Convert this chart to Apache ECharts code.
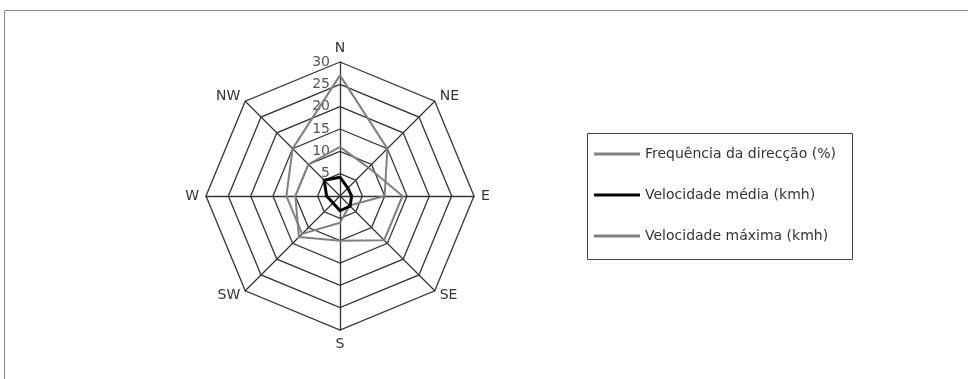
<!DOCTYPE html>
<html>
<head>
<meta charset="utf-8">
<script src="https://cdn.jsdelivr.net/npm/echarts@6/dist/echarts.min.js"></script>
<style>
  html, body { margin: 0; padding: 0; background: #fff; }
  #chart { width: 968px; height: 379px; }
</style>
</head>
<body>
<div id="chart"></div>
<script>
// Directions, compass order (clockwise from N)
const directions = ['N', 'NE', 'E', 'SE', 'S', 'SW', 'W', 'NW'];
// Values, same order as directions
const frequencia = [27, 15, 10, 3, 6, 12, 12, 15];
const velMedia = [4.2, 2.5, 2.6, 3.2, 3.3, 2.2, 3.0, 5.0];
const velMaxima = [11, 9, 14, 14, 10, 13, 10, 10];
const seriesNames = ['Frequência da direcção (%)', 'Velocidade média (kmh)', 'Velocidade máxima (kmh)'];
const axisMax = 30;

// radar goes counter-clockwise, so reorder N, NW, W, ...
const order = [0, 7, 6, 5, 4, 3, 2, 1];
const pick = arr => order.map(i => arr[i]);

const chart = echarts.init(document.getElementById('chart'));

const indicators = order.map((i, k) => {
    const ind = { name: directions[i], max: axisMax, min: 0 };
    if (k === 0) {
        // tick labels only on the N axis
        ind.axisLabel = {
            show: true,
            color: '#555',
            fontSize: 14,
            fontFamily: 'DejaVu Sans',
            margin: 10,
            formatter: v => (v === 0 ? '' : v)
        };
    }
    return ind;
});

const option = {
    animation: false,
    backgroundColor: '#fff',
    graphic: [
        // outer frame (cut by the image at right and bottom)
        {
            type: 'rect',
            shape: { x: 4.5, y: 10.5, width: 1000, height: 400 },
            style: { fill: null, stroke: '#8c8c8c', lineWidth: 1 }
        },
        // legend box
        {
            type: 'rect',
            shape: { x: 587.5, y: 133.5, width: 265, height: 126 },
            style: { fill: null, stroke: '#444', lineWidth: 1 }
        }
    ],
    legend: {
        orient: 'vertical',
        left: 594,
        top: 147,
        padding: 0,
        itemWidth: 46,
        itemHeight: 3,
        itemGap: 27,
        icon: 'rect',
        textStyle: { fontFamily: 'DejaVu Sans', fontSize: 14, color: '#333', lineHeight: 14 },
        data: seriesNames
    },
    radar: {
        center: [340, 196],
        radius: 134,
        startAngle: 90,
        shape: 'polygon',
        splitNumber: 6,
        indicator: indicators,
        axisName: {
            color: '#333',
            fontSize: 14,
            fontFamily: 'DejaVu Sans'
        },
        nameGap: 7,
        axisLabel: { show: false },
        axisLine: { lineStyle: { color: '#333', width: 1.3 } },
        splitLine: { lineStyle: { color: '#333', width: 1.3 } },
        splitArea: { show: false }
    },
    series: [{
        type: 'radar',
        symbol: 'none',
        data: [
            {
                name: seriesNames[0],
                value: pick(frequencia),
                lineStyle: { color: '#808080', width: 2 },
                itemStyle: { color: '#808080' }
            },
            {
                name: seriesNames[1],
                value: pick(velMedia),
                lineStyle: { color: '#000', width: 3 },
                itemStyle: { color: '#000' }
            },
            {
                name: seriesNames[2],
                value: pick(velMaxima),
                lineStyle: { color: '#808080', width: 2 },
                itemStyle: { color: '#808080' }
            }
        ]
    }]
};

chart.setOption(option);
</script>
</body>
</html>
